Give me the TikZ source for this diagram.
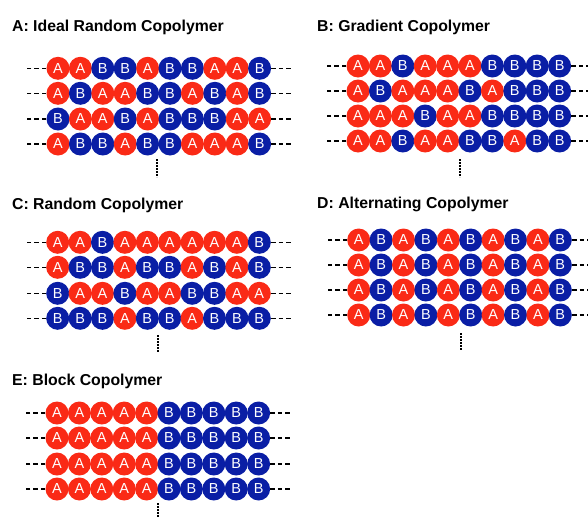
\documentclass[tikz,border=0pt]{standalone}
\usepackage{fontspec}
\setmainfont{Liberation Sans}
\definecolor{monored}{RGB}{250,42,22}
\definecolor{monoblue}{RGB}{10,30,165}
\tikzset{
  monobase/.style={circle,minimum size=23pt,inner sep=0pt,text=white,
    font=\fontsize{14.5}{14.5}\selectfont},
  monoA/.style={monobase,fill=monored},
  monoB/.style={monobase,fill=monoblue},
  dashline/.style={line width=1.3pt,dash pattern=on 4.5pt off 3pt},
  dotline/.style={line width=2pt,dash pattern=on 1.6pt off 1.4pt},
  paneltitle/.style={anchor=base west,inner sep=0pt,font=\fontsize{15.8}{18}\selectfont\bfseries}
}
\newcommand\polyrow[4]{%
  \foreach \m [count=\i] in {#4} {
    \node[mono\m] (#1-\i) at ({#2+(\i-1)*22.4},#3) {\m};
  }
  \coordinate (#1-l) at ({#2-33},#3);
  \coordinate (#1-r) at ({#2+9*22.4+33},#3);
  \draw[dashline] (#1-1) -- (#1-l);
  \draw[dashline] (#1-10) -- (#1-r);
}
\begin{document}
\begin{tikzpicture}[x=1pt,y=-1pt]
\useasboundingbox (0,0) rectangle (588,522);
% Panel A
\node[paneltitle] (tA) at (12,31) {A: Ideal Random Copolymer};
\polyrow{a1}{58}{68.3}{A,A,B,B,A,B,B,A,A,B}
\polyrow{a2}{58}{93.3}{A,B,A,A,B,B,A,B,A,B}
\polyrow{a3}{58}{119}{B,A,A,B,A,B,B,B,A,A}
\polyrow{a4}{58}{144}{A,B,B,A,B,B,A,A,A,B}
\coordinate (aDt) at (157,159); \coordinate (aDb) at (157,177);
\draw[dotline] (aDt) -- (aDb);
% Panel B
\node[paneltitle] (tB) at (317,31) {B: Gradient Copolymer};
\polyrow{b1}{358}{66}{A,A,B,A,A,A,B,B,B,B}
\polyrow{b2}{358}{91}{A,B,A,A,A,B,A,B,B,B}
\polyrow{b3}{358}{116}{A,A,A,B,A,A,B,B,B,B}
\polyrow{b4}{358}{141}{A,A,B,A,A,B,B,A,B,B}
\coordinate (bDt) at (460,159); \coordinate (bDb) at (460,177);
\draw[dotline] (bDt) -- (bDb);
% Panel C
\node[paneltitle] (tC) at (12,209) {C: Random Copolymer};
\polyrow{c1}{57.7}{242.3}{A,A,B,A,A,A,A,A,A,B}
\polyrow{c2}{57.7}{267.3}{A,B,B,A,B,B,A,B,A,B}
\polyrow{c3}{57.7}{293.3}{B,A,A,B,A,A,B,B,A,A}
\polyrow{c4}{57.7}{318.3}{B,B,B,A,B,B,A,B,B,B}
\coordinate (cDt) at (158,335); \coordinate (cDb) at (158,352);
\draw[dotline] (cDt) -- (cDb);
% Panel D
\node[paneltitle] (tD) at (317,208) {D: Alternating Copolymer};
\polyrow{d1}{358.7}{240}{A,B,A,B,A,B,A,B,A,B}
\polyrow{d2}{358.7}{265}{A,B,A,B,A,B,A,B,A,B}
\polyrow{d3}{358.7}{290}{A,B,A,B,A,B,A,B,A,B}
\polyrow{d4}{358.7}{315}{A,B,A,B,A,B,A,B,A,B}
\coordinate (dDt) at (461,333); \coordinate (dDb) at (461,350);
\draw[dotline] (dDt) -- (dDb);
% Panel E
\node[paneltitle] (tE) at (12,385) {E: Block Copolymer};
\polyrow{e1}{57}{413}{A,A,A,A,A,B,B,B,B,B}
\polyrow{e2}{57}{438}{A,A,A,A,A,B,B,B,B,B}
\polyrow{e3}{57}{464}{A,A,A,A,A,B,B,B,B,B}
\polyrow{e4}{57}{489}{A,A,A,A,A,B,B,B,B,B}
\coordinate (eDt) at (158,503); \coordinate (eDb) at (158,517);
\draw[dotline] (eDt) -- (eDb);
\end{tikzpicture}
\end{document}
